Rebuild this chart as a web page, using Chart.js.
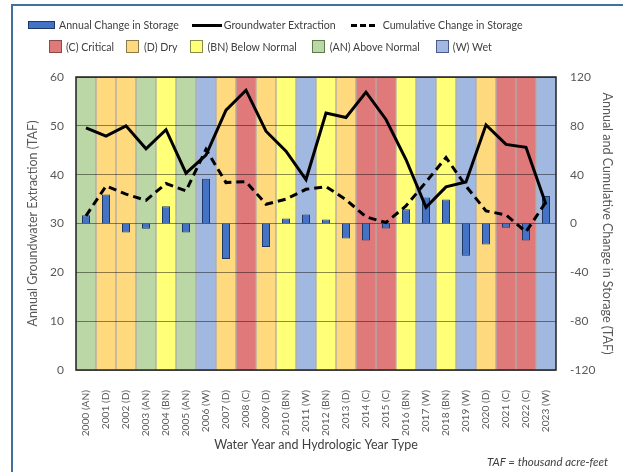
<!DOCTYPE html>
<html>
<head>
<meta charset="utf-8">
<script src="https://cdn.jsdelivr.net/npm/chart.js@4.4.1/dist/chart.umd.min.js"></script>
<style>
  html, body { margin: 0; padding: 0; background: #fff; }
  body { width: 623px; height: 472px; position: relative; overflow: hidden; font-family: Lato, "Open Sans", sans-serif; }
  #frame { position: absolute; left: 11px; top: 4px; width: 700px; height: 600px; border-top: 2px solid #41719C; border-left: 2px solid #41719C; }
  #c { position: absolute; left: 0; top: 0; }
  .row { position: absolute; display: flex; align-items: center; font-size: 10.6px; color: #404040; white-space: nowrap; }
  .sw { display: inline-block; box-sizing: border-box; }
  .note { position: absolute; left: 487px; top: 455px; font-size: 11.5px; font-style: italic; color: #404040; white-space: nowrap; }
</style>
</head>
<body>
<div id="frame"></div>
<canvas id="c" width="623" height="472"></canvas>
<div class="row" style="left:28px; top:19px;">
  <span class="sw" style="width:27px;height:8px;background:#4472C4;border:1px solid #203864;margin-right:4px;"></span>
  <span style="margin-right:13px;">Annual Change in Storage</span>
  <span class="sw" style="width:30px;height:0;border-top:3px solid #000;margin-right:2px;"></span>
  <span style="margin-right:15px;">Groundwater Extraction</span>
  <span class="sw" style="width:24px;height:0;border-top:3px dashed #000;margin-right:8px;"></span>
  <span>Cumulative Change in Storage</span>
</div>
<div class="row" style="left:49px; top:40px;">
  <span class="sw" style="width:13px;height:13px;background:#E07A7A;border:1px solid #8a4a4a;margin-right:4px;"></span>
  <span style="margin-right:12px;">(C) Critical</span>
  <span class="sw" style="width:13px;height:13px;background:#FFD97E;border:1px solid #8a7a4a;margin-right:5px;"></span>
  <span style="margin-right:12px;">(D) Dry</span>
  <span class="sw" style="width:13px;height:13px;background:#FFFF78;border:1px solid #8a8a4a;margin-right:5px;"></span>
  <span style="margin-right:15px;">(BN) Below Normal</span>
  <span class="sw" style="width:13px;height:13px;background:#BBD7A6;border:1px solid #5a7a4a;margin-right:5px;"></span>
  <span style="margin-right:16px;">(AN) Above Normal</span>
  <span class="sw" style="width:13px;height:13px;background:#A1B8E1;border:1px solid #4a5a8a;margin-right:4px;"></span>
  <span>(W) Wet</span>
</div>
<div class="note">TAF = thousand acre-feet</div>
<script>
const categories = ['2000 (AN)','2001 (D)','2002 (D)','2003 (AN)','2004 (BN)','2005 (AN)','2006 (W)','2007 (D)','2008 (C)','2009 (D)','2010 (BN)','2011 (W)','2012 (BN)','2013 (D)','2014 (C)','2015 (C)','2016 (BN)','2017 (W)','2018 (BN)','2019 (W)','2020 (D)','2021 (C)','2022 (C)','2023 (W)'];
const yearTypes = ['AN','D','D','AN','BN','AN','W','D','C','D','BN','W','BN','D','C','C','BN','W','BN','W','D','C','C','W'];
const extraction = [49.6, 47.9, 50.0, 45.3, 49.2, 40.3, 44.0, 53.2, 57.3, 48.9, 44.8, 39.0, 52.6, 51.7, 56.9, 51.3, 43.1, 33.3, 37.5, 38.5, 50.2, 46.2, 45.6, 33.9];
const cumulative = [6.3, 30.7, 24.0, 19.0, 32.7, 26.7, 60.7, 33.5, 34.3, 15.8, 19.9, 28.0, 30.2, 19.5, 5.4, 0.8, 14.4, 34.0, 54.0, 30.7, 10.3, 7.0, -6.8, 17.7];
const annual = [6.8, 23.7, -7.3, -4.4, 14.1, -7.3, 36.7, -29.1, 0.5, -19.3, 4.1, 7.3, 3.3, -12.2, -13.9, -4.1, 11.7, 21.2, 19.6, -26.4, -17.1, -3.5, -13.9, 22.6];
const leftTicks = [0, 10, 20, 30, 40, 50, 60];
const rightTicks = [-120, -80, -40, 0, 40, 80, 120];

const typeColors = { C: '#E07A7A', D: '#FFD97E', BN: '#FFFF78', AN: '#BBD7A6', W: '#A1B8E1' };
const bandValues = yearTypes.map(() => 1);

const FONT = 'Lato, "Open Sans", sans-serif';
const GREY = '#595959';

const frameBorder = {
  id: 'frameBorder',
  afterDraw(chart) {
    const a = chart.chartArea, ctx = chart.ctx;
    ctx.save();
    ctx.strokeStyle = '#222';
    ctx.lineWidth = 1.5;
    ctx.strokeRect(a.left, a.top, a.right - a.left, a.bottom - a.top);
    ctx.restore();
  }
};

new Chart(document.getElementById('c'), {
  data: {
    labels: categories,
    datasets: [
      { type: 'line', label: 'Groundwater Extraction', data: extraction, yAxisID: 'y',
        borderColor: '#000', borderWidth: 3, pointRadius: 0, tension: 0, order: 1 },
      { type: 'line', label: 'Cumulative Change in Storage', data: cumulative, yAxisID: 'y1',
        borderColor: '#000', borderWidth: 3, borderDash: [8, 5], pointRadius: 0, tension: 0, order: 2 },
      { type: 'bar', label: 'Annual Change in Storage', data: annual, yAxisID: 'y1',
        backgroundColor: '#4472C4', borderColor: '#203864', borderWidth: 1,
        grouped: false, categoryPercentage: 1, barPercentage: 0.4, order: 3 },
      { type: 'bar', label: 'Year Type', data: bandValues, yAxisID: 'yBand',
        backgroundColor: yearTypes.map(t => typeColors[t]), borderColor: 'rgba(0,0,0,0.3)', borderWidth: 1,
        grouped: false, categoryPercentage: 1, barPercentage: 1, order: 4 }
    ]
  },
  options: {
    responsive: false,
    animation: false,
    devicePixelRatio: 1,
    layout: { padding: { top: 77, left: 0, right: 0, bottom: 0 } },
    plugins: { legend: { display: false }, tooltip: { enabled: false } },
    scales: {
      x: {
        type: 'category',
        offset: true,
        grid: { display: false },
        border: { display: false },
        ticks: { color: GREY, font: { family: FONT, size: 10.2 }, minRotation: 90, maxRotation: 90, padding: 12, autoSkip: false },
        title: { display: true, text: 'Water Year and Hydrologic Year Type', color: '#404040', font: { family: FONT, size: 12.5 }, padding: { top: 0, bottom: 20 } },
        afterFit(s) { s.height = 102; }
      },
      y: {
        position: 'left', min: 0, max: 60,
        afterBuildTicks(s) { s.ticks = leftTicks.map(v => ({ value: v })); },
        grid: { color: 'rgba(0,0,0,0.45)', lineWidth: 1, drawTicks: false, z: 1 },
        border: { display: false },
        ticks: { color: GREY, font: { family: FONT, size: 12 }, padding: 12 },
        title: { display: true, text: 'Annual Groundwater Extraction (TAF)', color: GREY, font: { family: FONT, size: 12.5 }, padding: { top: 25 } },
        afterFit(s) { s.width = 76; }
      },
      y1: {
        position: 'right', min: -120, max: 120,
        afterBuildTicks(s) { s.ticks = rightTicks.map(v => ({ value: v })); },
        grid: { display: false, drawTicks: false },
        border: { display: false },
        ticks: { color: GREY, font: { family: FONT, size: 12 }, padding: 14 },
        title: { display: true, text: 'Annual and Cumulative Change in Storage (TAF)', color: GREY, font: { family: FONT, size: 12.5 }, padding: { top: 8 } },
        afterFit(s) { s.width = 67; }
      },
      yBand: { display: false, min: 0, max: 1 }
    }
  },
  plugins: [frameBorder]
});
</script>
</body>
</html>
